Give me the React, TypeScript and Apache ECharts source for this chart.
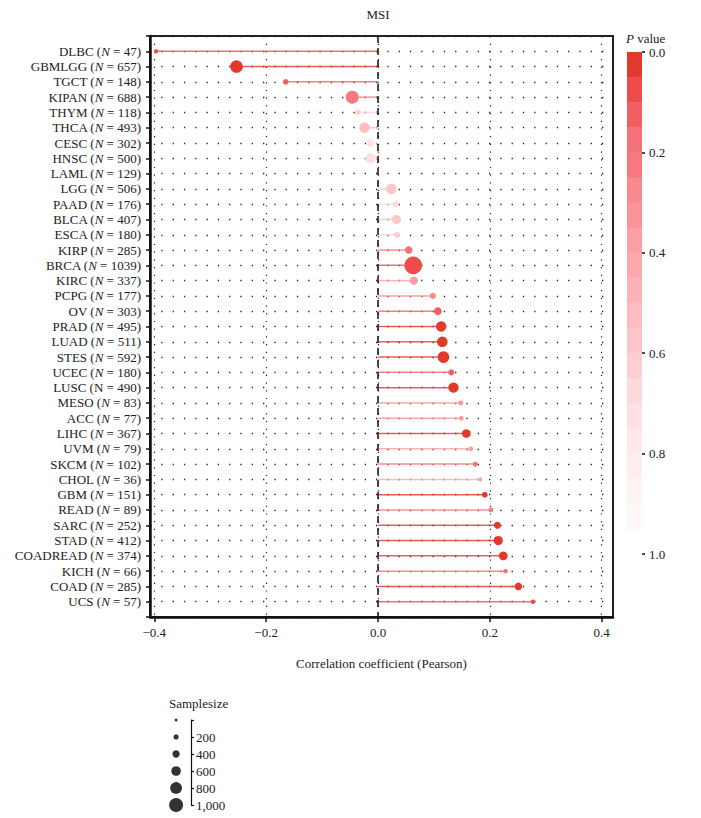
import React, { useEffect, useRef } from "react";
import * as echarts from "echarts";

// ---------- data ----------
const TITLE = "MSI";
const CANCERS = [
  "DLBC", "GBMLGG", "TGCT", "KIPAN", "THYM", "THCA", "CESC", "HNSC", "LAML",
  "LGG", "PAAD", "BLCA", "ESCA", "KIRP", "BRCA", "KIRC", "PCPG", "OV", "PRAD",
  "LUAD", "STES", "UCEC", "LUSC", "MESO", "ACC", "LIHC", "UVM", "SKCM", "CHOL",
  "GBM", "READ", "SARC", "STAD", "COADREAD", "KICH", "COAD", "UCS",
];
const SAMPLE_N = [
  47, 657, 148, 688, 118, 493, 302, 500, 129,
  506, 176, 407, 180, 285, 1039, 337, 177, 303, 495,
  511, 592, 180, 490, 83, 77, 367, 79, 102, 36,
  151, 89, 252, 412, 374, 66, 285, 57,
];
const CORR = [
  -0.397, -0.253, -0.165, -0.046, -0.036, -0.024, -0.014, -0.0135, 0.009,
  0.024, 0.032, 0.033, 0.034, 0.055, 0.063, 0.064, 0.098, 0.107, 0.113,
  0.115, 0.117, 0.131, 0.135, 0.148, 0.149, 0.158, 0.166, 0.174, 0.183,
  0.191, 0.202, 0.2135, 0.215, 0.224, 0.228, 0.251, 0.277,
];
const P_VALUES = [
  0.06, 0.001, 0.11, 0.22, 0.62, 0.52, 0.72, 0.72, 0.91,
  0.56, 0.66, 0.55, 0.64, 0.16, 0.06, 0.37, 0.27, 0.12, 0.01,
  0.009, 0.004, 0.13, 0.003, 0.33, 0.33, 0.002, 0.36, 0.17, 0.44,
  0.02, 0.2, 0.001, 0.001, 0.001, 0.16, 0.001, 0.09,
];
// LUSC label uses an upright N in the original
const UPRIGHT_N = ["LUSC"];
const LEGEND_N = [0, 200, 400, 600, 800, 1000];
const P_TICKS_STEP = 0.2;
const P_BAND = 0.05;

// ---------- styles ----------
const PALETTE = [
  "#E3392B", "#EE4B4D", "#F25F63", "#F47277", "#F6797E", "#F88A8E", "#F99398",
  "#FAA0A4", "#FBA9AD", "#FCB2B6", "#FCBCC0", "#FDC6C9", "#FDCFD2", "#FED9DB",
  "#FEE1E3", "#FEE8EA", "#FFEEEF", "#FFF3F4", "#FFF8F8",
];
const FONT = "Liberation Serif";
const TXT = "#222";

const pColor = (p: number) =>
  PALETTE[Math.max(0, Math.min(PALETTE.length - 1, Math.floor(p / P_BAND)))];
const dotSize = (n: number) => 3.7 + 0.0135 * n;
const legendSize = (n: number) => 3 + 0.011 * n;
const fmtNum = (v: number) => (v < 0 ? "\u2212" : "") + Math.abs(v).toFixed(1);

export default function App() {
  const ref = useRef<HTMLDivElement>(null);

  useEffect(() => {
    document.body.style.margin = "0";
    if (!ref.current) return;
    const chart = echarts.init(ref.current, undefined, { renderer: "svg" });

    const bands = PALETTE.map((_, i) => [i * P_BAND, (i + 1) * P_BAND, i]);

    const option: any = {
      animation: false,
      backgroundColor: "#fff",
      textStyle: { fontFamily: FONT, color: TXT },
      grid: [
        { left: 150, top: 36, width: 463, height: 581, show: true, borderColor: "#222", borderWidth: 2, backgroundColor: "transparent" },
        { left: 627, top: 52, width: 15, height: 502 },
        { left: 170, top: 720, width: 21, height: 85 },
      ],
      xAxis: [
        {
          gridIndex: 0,
          type: "value",
          min: -0.4077,
          max: 0.4202,
          minInterval: 0.2,
          maxInterval: 0.2,
          axisLine: { show: true, onZero: false, lineStyle: { color: "#111", width: 2.5 } },
          axisTick: { show: true, length: 5, lineStyle: { color: "#111", width: 1.5 } },
          axisLabel: {
            showMinLabel: false,
            showMaxLabel: false,
            margin: 9,
            fontFamily: FONT,
            fontSize: 13,
            color: TXT,
            formatter: (v: number) => fmtNum(v),
          },
          splitLine: { show: true, lineStyle: { color: "#222", width: 1.2, type: [1.2, 6.5] } },
          name: "Correlation coefficient (Pearson)",
          nameLocation: "middle",
          nameGap: 40,
          nameTextStyle: { fontFamily: FONT, fontSize: 13, color: TXT },
        },
        { gridIndex: 1, type: "value", min: 0, max: 1, show: false },
        { gridIndex: 2, type: "value", min: 0, max: 1, show: false },
      ],
      yAxis: [
        {
          gridIndex: 0,
          type: "value",
          inverse: true,
          min: -1,
          max: CANCERS.length,
          interval: 1,
          axisLine: { show: true, onZero: false, lineStyle: { color: "#111", width: 2.5 } },
          axisTick: { show: true, length: 4, lineStyle: { color: "#111", width: 1.5 } },
          axisLabel: {
            margin: 9,
            fontFamily: FONT,
            fontSize: 13,
            color: TXT,
            formatter: (v: number) => {
              const i = Math.round(v);
              if (i < 0 || i >= CANCERS.length) return "";
              const name = CANCERS[i];
              const n = SAMPLE_N[i];
              return UPRIGHT_N.includes(name)
                ? `${name} (N = ${n})`
                : `${name} ({i|N} = ${n})`;
            },
            rich: {
              i: { fontStyle: "italic", fontFamily: FONT, fontSize: 13, color: TXT },
            },
          },
          splitLine: { show: true, lineStyle: { color: "#222", width: 1.3, type: [1.3, 10] } },
        },
        {
          gridIndex: 1,
          type: "value",
          inverse: true,
          min: 0,
          max: 1,
          interval: P_TICKS_STEP,
          position: "right",
          axisLine: { show: false, onZero: false },
          axisTick: { show: true, length: 3, lineStyle: { color: "#111", width: 1.5 } },
          axisLabel: { margin: 7, fontFamily: FONT, fontSize: 13, color: TXT, formatter: (v: number) => v.toFixed(1) },
          splitLine: { show: false },
        },
        {
          gridIndex: 2,
          type: "value",
          inverse: true,
          min: 0,
          max: 1000,
          interval: 200,
          position: "right",
          axisLine: { show: true, onZero: false, lineStyle: { color: "#111", width: 1.2 } },
          axisTick: { show: true, length: 3, lineStyle: { color: "#111", width: 1.2 } },
          axisLabel: {
            margin: 5,
            fontFamily: FONT,
            fontSize: 13,
            color: TXT,
            formatter: (v: number) => (v === 0 ? "" : v.toLocaleString("en-US")),
          },
          splitLine: { show: false },
        },
      ],
      series: [
        {
          type: "custom",
          xAxisIndex: 0,
          yAxisIndex: 0,
          silent: true,
          z: 2,
          data: CORR.map((r, i) => [r, i, P_VALUES[i]]),
          encode: { x: 0, y: 1 },
          renderItem: (_params: any, api: any) => {
            const r = api.value(0);
            const i = api.value(1);
            const p = api.value(2);
            const a = api.coord([0, i]);
            const b = api.coord([r, i]);
            return {
              type: "line",
              shape: { x1: a[0], y1: a[1], x2: b[0], y2: b[1] },
              style: { stroke: pColor(p), lineWidth: 1.5, opacity: 0.8 },
            };
          },
        },
        {
          type: "scatter",
          xAxisIndex: 0,
          yAxisIndex: 0,
          z: 3,
          data: CORR.map((r, i) => [r, i, SAMPLE_N[i], P_VALUES[i]]),
          symbol: "circle",
          symbolSize: (v: number[]) => dotSize(v[2]),
          itemStyle: { color: (p: any) => pColor(p.value[3]), opacity: 1 },
          markLine: {
            silent: true,
            symbol: ["none", "none"],
            label: { show: false },
            lineStyle: { color: "#111", width: 1.5, type: [7, 5] },
            data: [{ xAxis: 0 }],
          },
        },
        {
          type: "custom",
          xAxisIndex: 1,
          yAxisIndex: 1,
          silent: true,
          data: bands,
          encode: { y: [0, 1] },
          renderItem: (_params: any, api: any) => {
            const s = api.value(0);
            const e = api.value(1);
            const idx = api.value(2);
            const a = api.coord([0, s]);
            const b = api.coord([1, e]);
            return {
              type: "rect",
              shape: { x: a[0], y: a[1], width: b[0] - a[0], height: b[1] - a[1] + 0.5 },
              style: { fill: PALETTE[idx] },
            };
          },
        },
        {
          type: "scatter",
          xAxisIndex: 2,
          yAxisIndex: 2,
          silent: true,
          data: LEGEND_N.map((n) => [0.29, n]),
          symbol: "circle",
          symbolSize: (v: number[]) => legendSize(v[1]),
          itemStyle: { color: "#000" },
        },
      ],
      graphic: [
        {
          type: "text",
          x: 378,
          y: 14,
          style: { text: TITLE, font: `13px '${FONT}'`, fill: TXT, align: "center", verticalAlign: "middle" },
        },
        {
          type: "text",
          x: 626,
          y: 38,
          style: {
            text: "{i|P} value",
            font: `13px '${FONT}'`,
            fill: TXT,
            verticalAlign: "middle",
            rich: { i: { fontStyle: "italic", fontFamily: FONT, fontSize: 13, fill: TXT } },
          },
        },
        {
          type: "text",
          x: 169,
          y: 703,
          style: { text: "Samplesize", font: `13px '${FONT}'`, fill: TXT, verticalAlign: "middle" },
        },
      ],
    };

    chart.setOption(option);
    return () => chart.dispose();
  }, []);

  return <div ref={ref} style={{ width: 701, height: 818 }} />;
}
